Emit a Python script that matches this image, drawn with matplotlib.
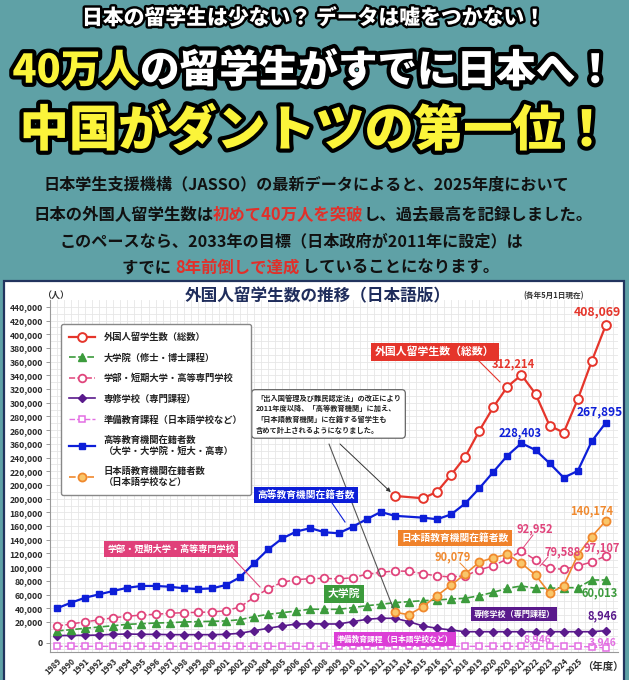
import numpy as np
import matplotlib
matplotlib.use("Agg")
import matplotlib.pyplot as plt
from matplotlib import patheffects as pe
from matplotlib.lines import Line2D
from matplotlib.patches import Rectangle

plt.rcParams['font.family'] = ['Noto Sans CJK JP', 'DejaVu Sans']

# ---------------- data (values in thousands, as drawn on the chart's grid) ----------------
x_labels = ["1989", "1990", "1991", "1992", "1993", "1994", "1995", "1996", "1997", "1998",
            "1999", "2000", "2001", "2002", "2003", "2004", "2005", "2006", "2007", "2008",
            "2009", "2010", "2011", "2012", "2013", "2014", "2015", "2016", "2017", "2018",
            "2019", "2020", "2020", "2021", "2022", "2023", "2024", "2025", "", ""]

y_tick_labels = ["0", "20,000", "40,000", "60,000", "80,000", "100,000", "120,000", "140,000",
                 "160,000", "180,000", "200,000", "200,000", "220,000", "240,000", "360,000",
                 "260,000", "280,000", "300,000", "320,000", "340,000", "360,000", "380,000",
                 "400,000", "420,000", "440,000"]

nan = np.nan
total = [nan] * 24 + [204, nan, 200.6, 210, 234.6, 261, 299, 333.5, 363.5, 380.6,
                      353, 306.6, 296.4, 345, 401, 453.6]
higher_ed = [40, 48.2, 55.5, 60.4, 65.3, 70, 72.6, 72.6, 71.5, 69.2,
             68.2, 69, 74, 85.3, 106, 126, 142, 152, 157, 151,
             149.5, 159, 170, 180.6, 175, nan, 172.3, 170, 177, 193,
             215, 239, 262.8, 281, 271, 251.7, 230.7, 240.5, 284, 311]
undergrad = [14.2, 17, 20.4, 23, 26.3, 28.3, 30.2, 31.2, 32.7, 33.6,
             34.1, 34.6, 36.5, 41.9, 56, 68.6, 78, 81.8, 83.3, 83.8,
             82.8, 84.7, 89.6, 92.5, 94.5, 94, 90.5, 87.2, 85.7, 87.6,
             95.9, 102.2, 112, 123.7, 110.5, 98.4, 96.9, 101.8, 107.6, 116.4]
graduate = [6.9, 8.8, 10.8, 12.7, 14.6, 16.6, 17.5, 18.5, 19, 20,
            20.5, 21, 21.5, 23.4, 27.8, 31.2, 33.6, 36, 38.7, 38.5,
            38.5, 40.9, 43.8, 45.8, 48.2, 49.7, 51.1, 52.1, 53.6, 54.6,
            58.4, 63.3, 69.2, 72.6, 69.2, 69.2, 70.1, 70.1, 81.3, 81.3]
senmon = [0, 0.5, 0.5, 1, 2, 2.5, 2, 2, 1.5, 1.5,
          1.5, 1.5, 2, 3.5, 7.3, 10.8, 14.2, 17, 17.5, 17.1,
          17.1, 20.5, 23.9, 25.4, 25.4, 20.5, 14.2, 10.8, 8.3, 5.8,
          5.8, 5.8, 5.8, 5.8, 5.8, 5.8, 5.8, 5.8, 5.8, 7.3]
prep = [-15.5] * 38 + [-16.5, -18]
jp_lang = [nan] * 24 + [34.1, 30.7, 42.4, 58.4, 74, 90, 107.2, 113.9, 118.8, 105.7,
                        88.6, 61.9, 73, 117.8, 144.6, 167.9]

legend_labels = ["外国人留学生数（総数）", "大学院（修士・博士課程）", "学部・短期大学・高等専門学校",
                 "専修学校（専門課程）", "準備教育課程（日本語学校など）",
                 "高等教育機関在籍者数\n（大学・大学院・短大・高専）",
                 "日本語教育機関在籍者数\n（日本語学校など）"]

# ---------------- figure ----------------
W, H = 629, 680
TEAL = "#5fa1a6"
fig = plt.figure(figsize=(W / 100, H / 100), dpi=100, facecolor=TEAL)


def fx(x):
    return x / W


def fy(y):
    return 1 - y / H


# white chart panel
fig.patches.append(Rectangle((fx(4), fy(690)), fx(620), 409 / H, transform=fig.transFigure,
                             facecolor="white", edgecolor="#22345e", linewidth=1.6, zorder=-10))

# ---------------- headline text ----------------
def rich(segs, cx, cy, size, weight="bold", stroke=None):
    r = fig.canvas.get_renderer()
    ts = []
    for s, c in segs:
        t = fig.text(0, fy(cy), s, color=c, fontsize=size, fontweight=weight,
                     ha="left", va="center_baseline")
        if stroke:
            t.set_path_effects([pe.Stroke(linewidth=stroke, foreground="black"), pe.Normal()])
        ts.append(t)
    ws = [t.get_window_extent(r).width for t in ts]
    x0 = cx - sum(ws) / 2
    for t, w in zip(ts, ws):
        t.set_x(x0 / W)
        x0 += w


YEL = "#fbf43a"
RED_T = "#e1302a"
rich([("日本の留学生は少ない？ データは嘘をつかない！", "white")], 314, 16, 15, "heavy", 3.5)
rich([("40万人", YEL), ("の留学生がすでに日本へ！", "white")], 314, 67, 28.5, "heavy", 6)
rich([("中国がダントツの第一位！", YEL)], 315, 126, 35.5, "heavy", 6)

rich([("日本学生支援機構（JASSO）の最新データによると、2025年度において", "#111111")], 306, 183, 11.6)
rich([("日本の外国人留学生数は", "#111111"), ("初めて40万人を突破", RED_T),
      ("し、過去最高を記録しました。", "#111111")], 313, 212, 11.8)
rich([("このペースなら、2033年の目標（日本政府が2011年に設定）は", "#111111")], 291, 240, 11.6)
rich([("すでに ", "#111111"), ("8年前倒しで達成", RED_T),
      (" していることになります。", "#111111")], 311, 266, 11.8)

# ---------------- chart ----------------
ax = fig.add_axes([fx(50), fy(652), 568 / W, 352 / H])
ax.set_facecolor("white")
x = np.arange(len(x_labels))

styles = {
    "total": dict(color="#e5352b", marker="o", mfc="white", mec="#e5352b", mew=1.4, ms=6.3, lw=1.6, ls="-"),
    "graduate": dict(color="#3c9b3c", marker="^", mfc="#3c9b3c", mec="#3c9b3c", ms=5.5, lw=1.2, ls=(0, (4, 1.5))),
    "undergrad": dict(color="#e0457c", marker="o", mfc="white", mec="#e0457c", mew=1.3, ms=5.5, lw=1.1, ls=(0, (4, 1.5))),
    "senmon": dict(color="#5a1a8c", marker="D", mfc="#5a1a8c", mec="#5a1a8c", ms=4.3, lw=1.2, ls="-"),
    "prep": dict(color="#e36ee3", marker="s", mfc="white", mec="#e36ee3", mew=1.1, ms=4.8, lw=1.0, ls=(0, (4, 1.5))),
    "higher": dict(color="#0d1ed8", marker="s", mfc="#0d1ed8", mec="#0d1ed8", ms=5.0, lw=1.6, ls="-"),
    "jp": dict(color="#f0892e", marker="o", mfc="#f9c66a", mec="#f0892e", mew=1.3, ms=5.8, lw=1.2, ls="-"),
}
series = [("prep", prep), ("senmon", senmon), ("graduate", graduate), ("undergrad", undergrad),
          ("jp", jp_lang), ("higher", higher_ed), ("total", total)]
for key, vals in series:
    v = np.array(vals, dtype=float)
    m = ~np.isnan(v)
    ax.plot(x[m], v[m], zorder=3, **styles[key])

ax.set_xlim(-0.14, 39.86)
ax.set_ylim(-23.8, 490)
ytick_pos = [-10] + [20 * i for i in range(1, len(y_tick_labels))]
ax.set_yticks(ytick_pos)
ax.set_yticklabels(y_tick_labels, fontsize=6.2, fontweight="bold", color="#2a2a2a")
ax.set_xticks(x)
ax.set_xticklabels(x_labels, rotation=45, ha="right", rotation_mode="anchor",
                   fontsize=5.8, fontweight="bold", color="#2a2a2a")
ax.tick_params(axis="x", length=0, pad=3)
ax.tick_params(axis="y", length=3, pad=2, color="#888888", width=0.6)
ax.set_xticks(np.arange(-0.5, 40, 0.5), minor=True)
ax.set_yticks(np.arange(-20, 490, 10), minor=True)
ax.tick_params(which="minor", length=0)
ax.grid(True, which="both", color="#e6e6e6", lw=0.6, zorder=0)
ax.set_axisbelow(True)
for s in ["top", "right"]:
    ax.spines[s].set_visible(False)
for s in ["left", "bottom"]:
    ax.spines[s].set_color("#999999")
    ax.spines[s].set_linewidth(0.8)

# legend (proxies)
order = ["total", "graduate", "undergrad", "senmon", "prep", "higher", "jp"]
handles = []
for k in order:
    st = dict(styles[k])
    if k == "jp":
        st["ls"] = (0, (4, 1.5))
    handles.append(Line2D([], [], **st))
leg = fig.legend(handles, legend_labels, loc="upper left", bbox_to_anchor=(fx(61), fy(324)),
                 bbox_transform=fig.transFigure, fontsize=6.7, frameon=True, fancybox=True,
                 edgecolor="#888888", framealpha=1, borderpad=0.9, labelspacing=1.2,
                 handlelength=2.8, handletextpad=0.9, borderaxespad=0)
leg.get_frame().set_linewidth(1.0)
leg.set_zorder(10)
for t in leg.get_texts():
    t.set_fontweight("bold")
    t.set_color("#222222")

# titles
fig.text(fx(318), fy(296), "外国人留学生数の推移（日本語版）", ha="center", va="center",
         fontsize=12, fontweight="bold", color="#1f2d5c")
fig.text(fx(554), fy(296), "(各年5月1日現在)", ha="center", va="center", fontsize=5.5,
         fontweight="bold", color="#333333")
fig.text(fx(56), fy(295), "（人）", ha="center", va="center", fontsize=6.5, fontweight="bold",
         color="#333333")
fig.text(fx(603), fy(667), "（年度）", ha="center", va="center", fontsize=7.5, fontweight="bold",
         color="#333333")


def box(cx, cy, s, fc, size, pad=0.35):
    fig.text(fx(cx), fy(cy), s, ha="center", va="center", color="white", fontsize=size,
             fontweight="bold", zorder=6,
             bbox=dict(boxstyle="square,pad=%s" % pad, fc=fc, ec="none"))


def seg(x1, y1, x2, y2, c, lw=0.8):
    fig.add_artist(Line2D([fx(x1), fx(x2)], [fy(y1), fy(y2)], transform=fig.transFigure,
                          color=c, lw=lw, zorder=5))


def num(cx, cy, s, c, size=8):
    fig.text(fx(cx), fy(cy), s, ha="center", va="center", color=c, fontsize=size,
             fontweight="bold", zorder=6)


# series name boxes with tails
seg(478, 360, 500, 382, "#e5352b")
box(435, 352, "外国人留学生数（総数）", "#e5352b", 7.8)
seg(330, 500, 345, 522, "#0d1ed8")
box(306, 495, "高等教育機関在籍者数", "#0d1ed8", 7.0)
seg(230, 555, 260, 587, "#e0457c")
box(171, 549, "学部・短期大学・高等専門学校", "#e0407a", 6.6)
box(344, 594, "大学院", "#3c9b3c", 7.8)
box(455, 538, "日本語教育機関在籍者数", "#f0822a", 7.0)
box(514, 614, "専修学校（専門課程）", "#5a1a8c", 5.9)
box(395, 639, "準備教育課程（日本語学校など）", "#dc3ed6", 5.6)

# number labels
seg(460, 563, 468, 571, "#f0892e", 0.7)
seg(533, 535, 523, 548, "#e0457c", 0.7)
seg(548, 557, 540, 566, "#e0457c", 0.7)
num(513, 364, "312,214", "#e5352b", 8)
num(597, 312, "408,069", "#e5352b", 8.8)
num(520, 433, "228,403", "#0d1ed8", 8)
num(600, 412, "267,895", "#0d1ed8", 8.6)
num(453, 557, "90,079", "#f0892e", 8)
num(535, 529, "92,952", "#e0457c", 8)
num(563, 552, "79,588", "#e0457c", 8)
num(592, 511, "140,174", "#f0892e", 8)
num(602, 548, "97,107", "#e0457c", 8)
num(600, 593, "60,013", "#3c9b3c", 8)
num(602, 616, "8,946", "#5a1a8c", 8)
num(537, 640, "8,946", "#e36ee3", 7.5)
num(603, 643, "3,946", "#e36ee3", 7.5)

# note box with pointers
note = ("「出入国管理及び難民認定法」の改正により\n2011年度以降、「高等教育機関」に加え、\n"
        "「日本語教育機関」に在籍する留学生も\n含めて計上されるようになりました。")
fig.text(fx(256), fy(414), note, ha="left", va="center", fontsize=5.2, fontweight="bold",
         color="#222222", linespacing=1.55, zorder=6,
         bbox=dict(boxstyle="round,pad=0.6,rounding_size=0.5", fc="white", ec="#666666", lw=0.9))
ax.annotate("", xy=(24, total[24]), xycoords="data", xytext=(fx(340), fy(444)),
            textcoords="figure fraction",
            arrowprops=dict(arrowstyle="-|>", color="#333333", lw=0.7, shrinkA=0, shrinkB=4,
                            mutation_scale=6), zorder=5)
ax.annotate("", xy=(24, jp_lang[24]), xycoords="data", xytext=(fx(329), fy(444)),
            textcoords="figure fraction",
            arrowprops=dict(arrowstyle="-", color="#555555", lw=0.8, shrinkA=0, shrinkB=3),
            zorder=5)

fig.savefig("out.png", dpi=100, facecolor=TEAL)
